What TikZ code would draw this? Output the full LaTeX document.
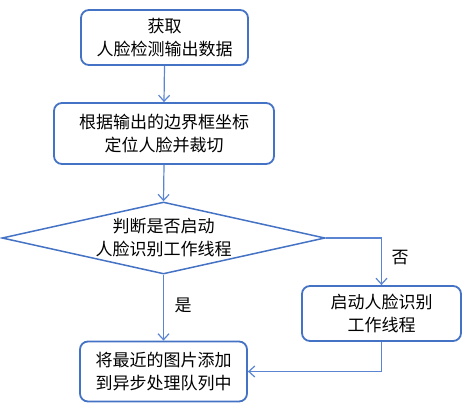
\documentclass[tikz,border=0pt]{standalone}
\usepackage{fontspec}
\setmainfont{Noto Sans CJK SC}
\usetikzlibrary{shapes.geometric,arrows.meta}
\definecolor{bl}{HTML}{4472C4}
\definecolor{cl}{HTML}{5B85D3}
\begin{document}
\begin{tikzpicture}[x=1pt,y=-1pt,
  box/.style={draw=bl,line width=1.8pt,rounded corners=8pt,align=center,inner sep=0pt,
    font=\fontsize{17}{23}\selectfont},
  dec/.style={draw=bl,line width=1.5pt,diamond,aspect=4.49,inner sep=0pt,align=center,
    minimum width=323pt,minimum height=72pt,font=\fontsize{17}{23}\selectfont},
  lab/.style={font=\fontsize{17}{20}\selectfont},
  conn/.style={draw=cl,line width=1.2pt,-{Straight Barb[length=6pt,width=11pt]}}]
\useasboundingbox (0,0) rectangle (468,410);
\node[box,minimum width=167pt,minimum height=55pt] (b1) at (164.5,37.5) {获取\\人脸检测输出数据};
\node[box,minimum width=220pt,minimum height=61pt] (b2) at (164,133.5) {根据输出的边界框坐标\\定位人脸并裁切};
\node[dec] (d) at (163.5,238) {判断是否启动\\人脸识别工作线程};
\node[box,minimum width=159pt,minimum height=55pt] (b3) at (381.5,313.5) {启动人脸识别\\工作线程};
\node[box,minimum width=167pt,minimum height=60pt] (b4) at (163.5,371.5) {将最近的图片添加\\到异步处理队列中};
\node[lab] (yes) at (183,305) {是};
\node[lab] (no) at (400,258) {否};
\draw[conn] (b1.south) -- (b2.north);
\draw[conn] (b2.south) -- (d.north);
\draw[conn] (d.south) -- (b4.north);
\draw[conn] (d.east) -| (b3.north);
\draw[conn] (b3.south) |- (b4.east);
\end{tikzpicture}
\end{document}
